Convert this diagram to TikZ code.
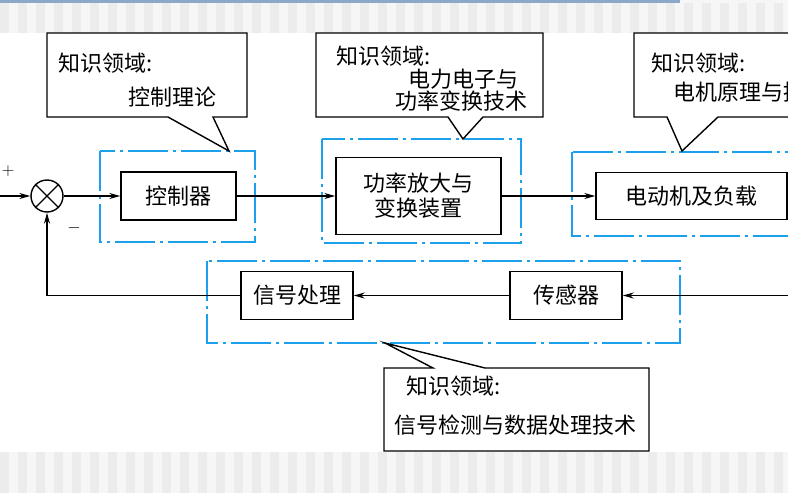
\documentclass[tikz,border=0pt]{standalone}
\usepackage{fontspec}
\setmainfont{Noto Sans CJK SC}
\usetikzlibrary{arrows.meta,positioning}

\definecolor{domblue}{RGB}{28,160,235}
\definecolor{barblue}{RGB}{140,168,200}
\definecolor{stripea}{RGB}{236,236,236}
\definecolor{stripeb}{RGB}{246,246,246}

\tikzset{
  blk_box/.style={draw,line width=1.4pt,inner sep=0pt,fill=white,font=\fontsize{22}{25}\selectfont,align=center},
  dom_box/.style={draw=domblue,line width=1.4pt,dash pattern=on 40pt off 5pt on 3pt off 5pt},
  know_box/.style={draw,line width=1.4pt,fill=white,line join=miter},
  know_txt/.style={anchor=west,inner sep=0pt,font=\fontsize{22}{25}\selectfont},
  sum_pt/.style={circle,draw,line width=1.4pt,minimum size=32pt,inner sep=0pt,fill=white},
  sign_txt/.style={inner sep=0pt,font=\fontsize{18}{18}\selectfont},
}

\begin{document}
\begin{tikzpicture}[
  x=1pt,y=-1pt,
  flow/.style={line width=1.3pt,-{Stealth[length=11pt,width=6pt]}},
  plain line/.style={line width=1.3pt},
  ]

  \clip (0,0) rectangle (788,493);

  \fill[stripeb] (0,0) rectangle (788,33);
  \fill[stripeb] (0,452) rectangle (788,493);
  \foreach \X in {0,18,...,780}{
    \fill[stripea] (\X,3) rectangle ++(9,30);
    \fill[stripea] (\X,452) rectangle ++(9,41);
  }
  \fill[barblue] (0,0) rectangle (680,3);

  \draw[dom_box] (100,151) rectangle (255,242);
  \draw[dom_box] (322,139) rectangle (521,243);
  \draw[dom_box] (572,152) rectangle (800,236);
  \draw[dom_box] (207,261) rectangle (680,343);

  \node[sum_pt] (sum) at (47,196) {};
  \draw[line width=1.3pt] (sum.north west) -- (sum.south east)
                          (sum.north east) -- (sum.south west);
  \node[sign_txt] (plus) at (8,171) {$+$};
  \node[sign_txt] (minus) at (74,228) {$-$};

  \node[blk_box,minimum width=115pt,minimum height=48pt] (ctrl) at (178.5,196) {控制器};
  \node[blk_box,minimum width=165pt,minimum height=77pt] (amp) at (418.5,196) {功率放大与\\变换装置};
  \node[blk_box,minimum width=191pt,minimum height=47pt] (motor) at (691.5,196) {电动机及负载};
  \node[blk_box,minimum width=112pt,minimum height=48pt] (proc) at (297,295.5) {信号处理};
  \node[blk_box,minimum width=112pt,minimum height=48pt] (sense) at (566,295.5) {传感器};

  \coordinate (in) at (-2,196);
  \coordinate (out) at (795,196);
  \coordinate (fb_in) at (795,295.5);

  \draw[flow] (in) -- (sum.west);
  \draw[flow] (sum.east) -- (ctrl.west);
  \draw[flow] (ctrl.east) -- (amp.west);
  \draw[flow] (amp.east) -- (motor.west);
  \draw[plain line] (motor.east) -- (out);
  \draw[flow] (fb_in) -- (sense.east);
  \draw[flow] (sense.west) -- (proc.east);
  \draw[flow] (proc.west) -| (sum.south);

  \draw[know_box] (47,33) -- (247,33) -- (247,117) -- (213,117)
       -- (229,151) coordinate (c1_tip) -- (168,117) -- (47,117) -- cycle;
  \draw[know_box] (316,33) -- (543,33) -- (543,117) -- (483,117)
       -- (463,139) coordinate (c2_tip) -- (448,117) -- (316,117) -- cycle;
  \draw[know_box] (634,33) -- (800,33) -- (800,117) -- (718,117)
       -- (682,151) coordinate (c3_tip) -- (667,117) -- (634,117) -- cycle;
  \draw[know_box] (384,368) -- (433,368) -- (385,343) coordinate (c4_tip)
       -- (485,368) -- (649,368) -- (649,451) -- (384,451) -- cycle;

  \node[know_txt] (c1_head) at (58,63) {知识领域:};
  \node[know_txt] (c1_body) at (128,97) {控制理论};
  \node[know_txt] (c2_head) at (336,56) {知识领域:};
  \node[know_txt] (c2_body) at (408,79) {电力电子与};
  \node[know_txt] (c2_more) at (395,101) {功率变换技术};
  \node[know_txt] (c3_head) at (651,63) {知识领域:};
  \node[know_txt] (c3_body) at (673,92) {电机原理与拖动};
  \node[know_txt] (c4_head) at (406,386) {知识领域:};
  \node[know_txt] (c4_body) at (394,425) {信号检测与数据处理技术};

\end{tikzpicture}
\end{document}
